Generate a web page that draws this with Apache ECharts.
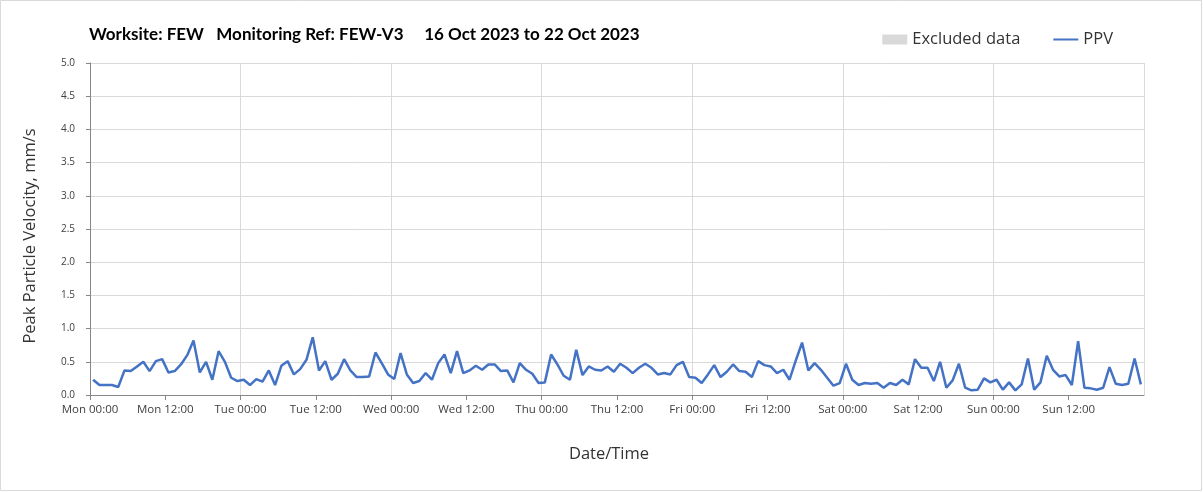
<!DOCTYPE html>
<html>
<head>
<meta charset="utf-8">
<script src="https://cdn.jsdelivr.net/npm/echarts@6/dist/echarts.min.js"></script>
<style>
html,body{margin:0;padding:0;background:#fff;}
#chart{width:1203px;height:492px;}
</style>
</head>
<body>
<div id="chart"></div>
<script>
// ---- data ----
const titleText = 'Worksite: FEW   Monitoring Ref: FEW-V3     16 Oct 2023 to 22 Oct 2023';
const dayNames = ['Mon', 'Tue', 'Wed', 'Thu', 'Fri', 'Sat', 'Sun', 'Mon'];
const tickTimes = ['00:00', '12:00'];
// hourly PPV readings (mm/s), first reading at Mon 00:30, one per hour
const ppvValues = [
  0.23, 0.15, 0.15, 0.15, 0.12, 0.37, 0.36, 0.43, 0.50, 0.36,
  0.51, 0.54, 0.34, 0.36, 0.46, 0.60, 0.82, 0.34, 0.50, 0.23,
  0.66, 0.50, 0.26, 0.21, 0.23, 0.15, 0.24, 0.20, 0.37, 0.15,
  0.44, 0.51, 0.31, 0.39, 0.53, 0.87, 0.37, 0.51, 0.23, 0.32,
  0.54, 0.37, 0.27, 0.27, 0.28, 0.64, 0.48, 0.31, 0.24, 0.63,
  0.31, 0.18, 0.21, 0.33, 0.23, 0.48, 0.61, 0.33, 0.66, 0.33,
  0.37, 0.44, 0.38, 0.46, 0.46, 0.36, 0.37, 0.19, 0.48, 0.38,
  0.32, 0.18, 0.19, 0.61, 0.46, 0.29, 0.23, 0.68, 0.30, 0.43,
  0.38, 0.37, 0.43, 0.35, 0.47, 0.41, 0.33, 0.41, 0.47, 0.41,
  0.31, 0.33, 0.31, 0.45, 0.50, 0.27, 0.26, 0.18, 0.31, 0.45,
  0.27, 0.35, 0.46, 0.36, 0.35, 0.27, 0.51, 0.45, 0.43, 0.33,
  0.38, 0.23, 0.52, 0.79, 0.37, 0.48, 0.38, 0.26, 0.14, 0.18,
  0.47, 0.23, 0.15, 0.18, 0.17, 0.18, 0.11, 0.18, 0.15, 0.23,
  0.16, 0.54, 0.41, 0.41, 0.21, 0.50, 0.11, 0.22, 0.47, 0.11,
  0.07, 0.08, 0.25, 0.19, 0.23, 0.08, 0.19, 0.07, 0.16, 0.55,
  0.08, 0.19, 0.59, 0.38, 0.28, 0.30, 0.15, 0.81, 0.11, 0.10,
  0.08, 0.11, 0.42, 0.17, 0.15, 0.17, 0.55, 0.16
];
const firstReadingHour = 0.5;   // hours after Mon 00:00
const weekHours = 168;

const seriesData = ppvValues.map((v, i) => [firstReadingHour + i, v]);

const chart = echarts.init(document.getElementById('chart'), null, {renderer: 'canvas'});
const axisFont = 'Open Sans';
chart.setOption({
  animation: false,
  backgroundColor: '#ffffff',
  graphic: [{
    type: 'rect', silent: true,
    shape: {x: 0.5, y: 0.5, width: 1201, height: 490},
    style: {fill: 'none', stroke: '#d9d9d9', lineWidth: 1}
  }],
  title: {
    text: titleText,
    left: 84, top: 21,
    textStyle: {fontFamily: 'Lato', fontWeight: 'bold', fontSize: 17, color: '#000'}
  },
  legend: {
    right: 85, top: 26,
    itemWidth: 25, itemHeight: 10, itemGap: 32,
    textStyle: {fontFamily: axisFont, fontSize: 16.5, color: '#333'},
    data: [
      {name: 'Excluded data', icon: 'rect'},
      {name: 'PPV', itemStyle: {opacity: 0}}
    ]
  },
  grid: {left: 90, right: 59, top: 63, bottom: 97, containLabel: false},
  xAxis: [{
    type: 'value', min: 0, max: weekHours, interval: 12,
    name: 'Date/Time', nameLocation: 'middle', nameGap: 51,
    nameTextStyle: {fontFamily: axisFont, fontSize: 16.5, color: '#333', padding: [0, 16, 0, 0]},
    axisLine: {show: true, lineStyle: {color: '#868686', width: 1}},
    axisTick: {show: true, length: 5, lineStyle: {color: '#868686'}},
    splitLine: {show: false},
    axisLabel: {
      showMaxLabel: false, margin: 9,
      fontFamily: axisFont, fontSize: 11.5, color: '#404040',
      formatter: function (h) {
        return dayNames[Math.floor(h / 24)] + ' ' + tickTimes[(h % 24) / 12];
      }
    }
  }, {
    type: 'value', min: 0, max: weekHours, interval: 24, position: 'bottom',
    axisLine: {show: false}, axisTick: {show: false}, axisLabel: {show: false},
    splitLine: {show: true, lineStyle: {color: '#d9d9d9', width: 1}}
  }],
  yAxis: {
    type: 'value', min: 0, max: 5, interval: 0.5,
    name: 'Peak Particle Velocity, mm/s', nameLocation: 'middle', nameGap: 51,
    nameTextStyle: {fontFamily: axisFont, fontSize: 16.5, color: '#333', padding: [0, 14, 0, 0]},
    axisLine: {show: true, lineStyle: {color: '#868686', width: 1}},
    axisTick: {show: true, length: 4, lineStyle: {color: '#868686'}},
    axisLabel: {
      margin: 15, fontFamily: axisFont, fontSize: 10, color: '#404040',
      formatter: v => v.toFixed(1)
    },
    splitLine: {show: true, lineStyle: {color: '#d9d9d9', width: 1}}
  },
  series: [{
    name: 'Excluded data', type: 'bar', data: [],
    itemStyle: {color: '#d9d9d9'}
  }, {
    name: 'PPV', type: 'line', data: seriesData,
    symbol: 'none', showSymbol: false,
    lineStyle: {color: '#4472c4', width: 2.5},
    itemStyle: {color: '#4472c4'}
  }]
});
</script>
</body>
</html>
